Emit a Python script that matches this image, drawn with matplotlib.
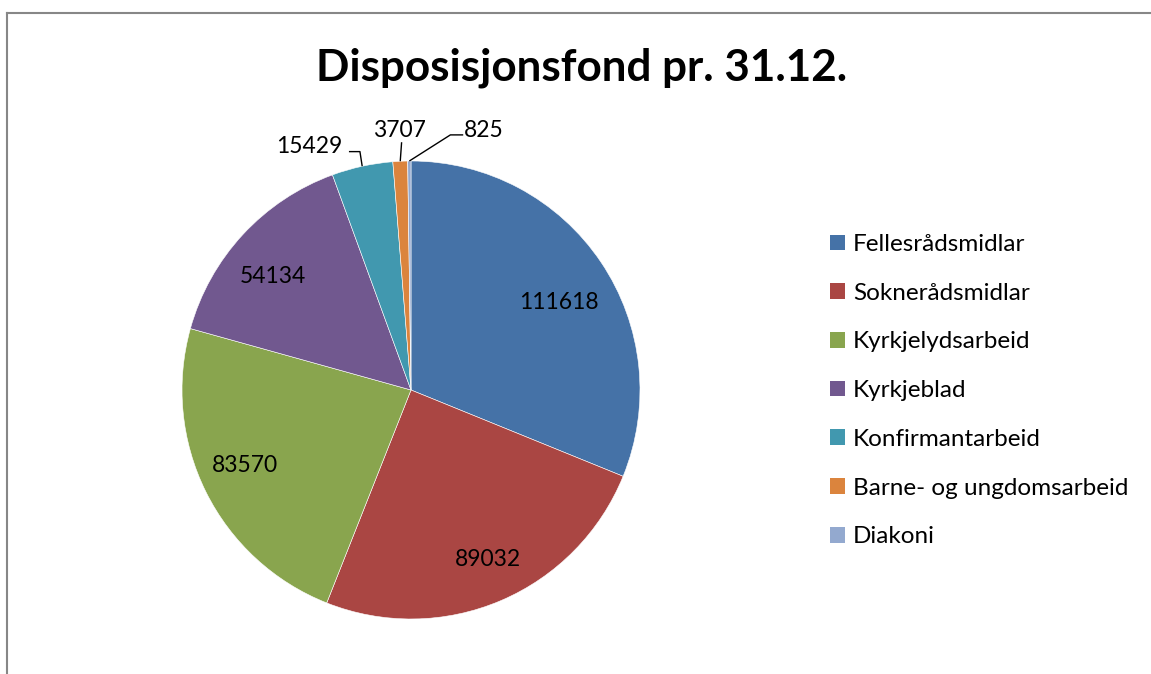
import matplotlib
matplotlib.use("Agg")
import matplotlib.pyplot as plt
import numpy as np
from matplotlib.patches import Patch
from matplotlib.lines import Line2D

categories = ["Fellesrådsmidlar", "Sokner\u00e5dsmidlar", "Kyrkjelydsarbeid", "Kyrkjeblad",
              "Konfirmantarbeid", "Barne- og ungdomsarbeid", "Diakoni"]
values = [111618, 89032, 83570, 54134, 15429, 3707, 825]
colors = ["#4572A7", "#AA4643", "#89A54E", "#71588F", "#4198AF", "#DB843D", "#93A9CF"]
title = "Disposisjonsfond pr. 31.12."

plt.rcParams['font.family'] = ['Lato', 'DejaVu Sans']

W, H = 1151, 674
fig = plt.figure(figsize=(W / 100, H / 100), dpi=100)
fig.patch.set_facecolor("white")

# border (left and top)
fig.add_artist(Line2D([7 / W, 7 / W], [0, 1 - 13 / H], color="#878787", lw=1.5))
fig.add_artist(Line2D([7 / W, 1150 / W], [1 - 13 / H, 1 - 13 / H], color="#878787", lw=1.5))

fig.text(582 / W, 1 - 68 / H, title, ha="center", va="center", fontsize=31.7, fontweight="bold")

cx, cy, r = 411, 390, 229
ax = fig.add_axes([(cx - r) / W, (H - cy - r) / H, 2 * r / W, 2 * r / H])
wedges, _ = ax.pie(values, colors=colors, startangle=90, counterclock=False,
                   wedgeprops=dict(edgecolor="white", linewidth=0.4))
ax.set_xlim(-1, 1)
ax.set_ylim(-1, 1)
ax.set_aspect("auto")
ax.axis("off")

total = sum(values)
fracs = np.array(values) / total
cum = np.cumsum(fracs) - fracs / 2
mid_angles = np.deg2rad(90 - cum * 360)

# label placement (in pie radius units)
label_pos = [(0.648, 0.389), (0.338, -0.734), (-0.727, -0.321), (-0.603, 0.502),
             (-0.443, 1.070), (-0.050, 1.140), (0.316, 1.140)]
leader_pts = {4: [(-0.271, 1.041), (-0.223, 1.041)],
              5: [(-0.041, 1.082)],
              6: [(0.228, 1.114), (0.172, 1.114)]}
for i in (4, 5, 6):
    a = mid_angles[i]
    pts = leader_pts[i] + [(np.cos(a), np.sin(a))]
    xs, ys = zip(*pts)
    ax.plot(xs, ys, color="black", lw=1, clip_on=False, solid_capstyle="butt")

for i, v in enumerate(values):
    ax.annotate(str(v), xy=label_pos[i], xytext=(0, -8), textcoords="offset pixels",
                ha="center", va="baseline", fontsize=16.5, annotation_clip=False)

handles = [Patch(facecolor=c, edgecolor="none") for c in colors]
fig.legend(handles, categories, loc="upper left", bbox_to_anchor=(830 / W, 1 - 234 / H),
           frameon=False, fontsize=17.5, handlelength=0.62, handleheight=0.62,
           handletextpad=0.33, labelspacing=1.14, borderpad=0, borderaxespad=0)

fig.savefig("out.png", dpi=100, facecolor="white")
